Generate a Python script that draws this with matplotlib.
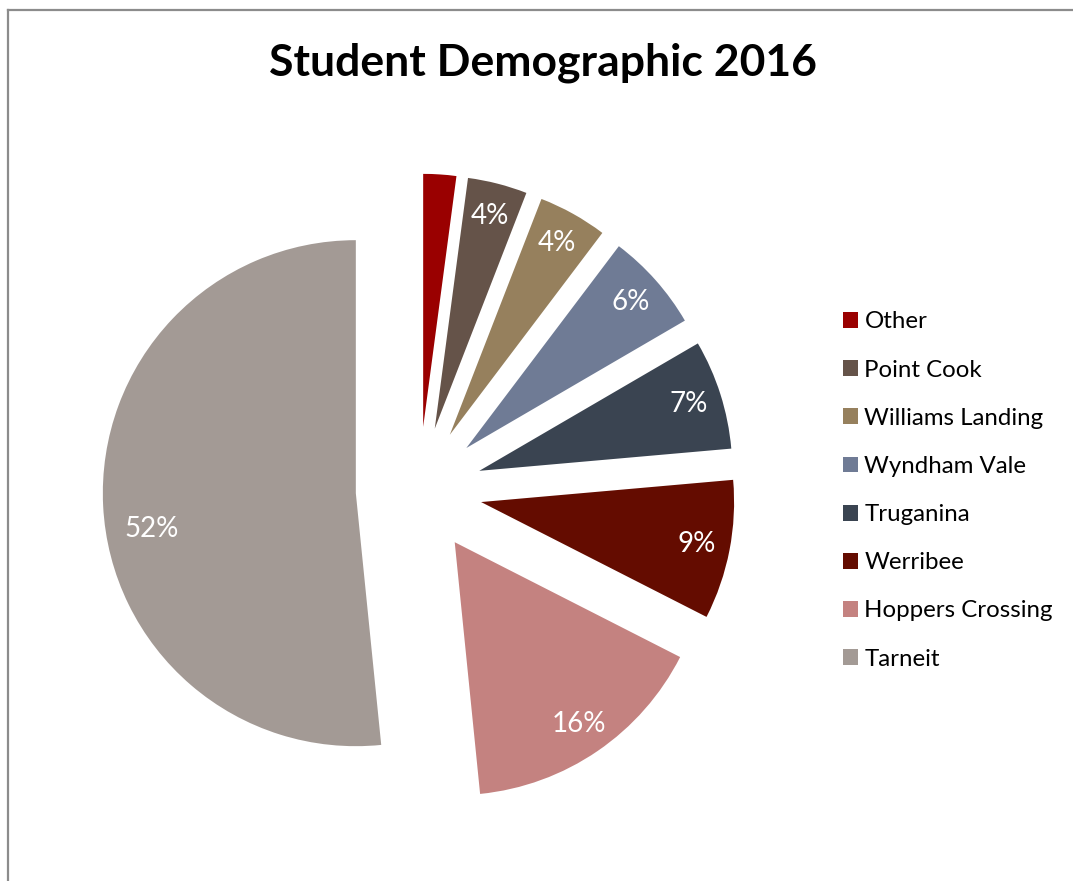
import numpy as np
import matplotlib.pyplot as plt
from matplotlib.lines import Line2D
from matplotlib.patches import Patch

# data (percent of students)
suburbs = ['Other', 'Point Cook', 'Williams Landing', 'Wyndham Vale',
           'Truganina', 'Werribee', 'Hoppers Crossing', 'Tarneit']
shares = [2.1, 3.8, 4.4, 6.3, 7.0, 8.9, 15.9, 51.6]
colors = ['#9A0000', '#655349', '#96805D', '#6F7B95',
          '#3A4451', '#640C00', '#C48280', '#A39A95']

plt.rcParams['font.family'] = ['Lato', 'DejaVu Sans']

W, H = 1073, 881
fig = plt.figure(figsize=(W / 100, H / 100), dpi=100)
ax = fig.add_axes([0, 0, 1, 1])

# pie centre and radius in pixels
cx, cy, r = 419, 490, 253


def pct_label(p):
    # the smallest slice has no label in the original
    return '' if p < 3 else f'{p:.0f}%'


wedges, texts, autotexts = ax.pie(
    shares, colors=colors, startangle=90, counterclock=False,
    explode=[0.25] * len(shares), autopct=pct_label, pctdistance=0.87,
    wedgeprops=dict(linewidth=0), textprops=dict(color='white', fontsize=20))

# the big slice's label sits a little lower in the original
w = wedges[-1]
ang = np.deg2rad((w.theta1 + w.theta2) / 2 + 7)
autotexts[-1].set_position((w.center[0] + 0.82 * np.cos(ang),
                            w.center[1] + 0.82 * np.sin(ang)))

ax.set_xlim(-cx / r, (W - cx) / r)
ax.set_ylim((cy - H) / r, cy / r)
ax.set_aspect('equal')
ax.axis('off')

# title
fig.text(543 / W, 1 - 63 / H, 'Student Demographic 2016', ha='center', va='center',
         fontsize=32, fontweight='bold', color='black')

# legend
handles = [Patch(facecolor=c, edgecolor='none') for c in colors]
fig.legend(handles, suburbs, loc='center left', bbox_to_anchor=(843 / W, 1 - 490.5 / H),
           frameon=False, fontsize=17.3, labelspacing=1.13, handlelength=0.64,
           handleheight=0.64, handletextpad=0.25, borderpad=0, borderaxespad=0)

# chart area border (top and left edges visible)
fig.add_artist(Line2D([8 / W, 8 / W], [0, 1 - 9.5 / H], color='#8c8c8c', lw=1.6))
fig.add_artist(Line2D([8 / W, 1], [1 - 9.5 / H, 1 - 9.5 / H], color='#8c8c8c', lw=1.6))

plt.savefig('out.png', dpi=100)
